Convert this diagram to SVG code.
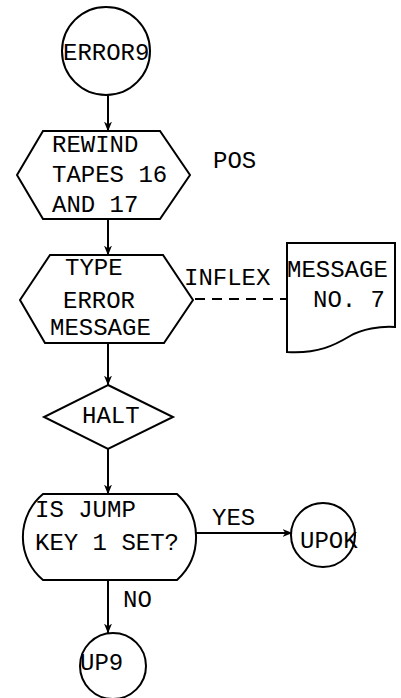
<svg xmlns="http://www.w3.org/2000/svg" width="401" height="698" viewBox="0 0 401 698">
  <style>
    .shape { fill: #fff; stroke: #000; stroke-width: 2; }
    .wire { fill: none; stroke: #000; stroke-width: 2; }
    .dash { fill: none; stroke: #000; stroke-width: 2; stroke-dasharray: 10 7; }
    text { font-family: "Liberation Mono", "Courier New", monospace; font-size: 24px; fill: #000; }
  </style>
  <defs>
    <marker id="arrow" viewBox="0 0 10 8" refX="9.5" refY="4" markerWidth="10" markerHeight="8" markerUnits="userSpaceOnUse" orient="auto">
      <path d="M0,0 L10,4 L0,8 L3,4 Z" fill="#000"/>
    </marker>
  </defs>

  <!-- connectors -->
  <g id="connectors">
    <line class="wire" x1="108" y1="95" x2="108" y2="131" marker-end="url(#arrow)"/>
    <line class="wire" x1="108" y1="219" x2="108" y2="255" marker-end="url(#arrow)"/>
    <line class="wire" x1="108" y1="343" x2="108" y2="385" marker-end="url(#arrow)"/>
    <line class="wire" x1="108" y1="449" x2="108" y2="494" marker-end="url(#arrow)"/>
    <line class="wire" x1="196" y1="533" x2="292" y2="533" marker-end="url(#arrow)"/>
    <line class="wire" x1="108" y1="580" x2="108" y2="633" marker-end="url(#arrow)"/>
    <line class="dash" x1="195" y1="299" x2="287" y2="299"/>
    <text x="213" y="168">POS</text>
    <text x="184" y="285">INFLEX</text>
    <text x="212" y="525">YES</text>
    <text x="123" y="607">NO</text>
  </g>

  <!-- entry connector -->
  <g id="error9">
    <circle class="shape" cx="106" cy="51" r="44"/>
    <text x="63" y="60">ERROR9</text>
  </g>

  <!-- preparation: rewind tapes -->
  <g id="rewind">
    <path class="shape" d="M43,131 H160 L190,175 L160,219 H43 L17,175 Z"/>
    <text x="52" y="152">REWIND</text>
    <text x="52" y="182">TAPES 16</text>
    <text x="52" y="212">AND 17</text>
  </g>

  <!-- preparation: type error message -->
  <g id="type-error">
    <path class="shape" d="M50,255 H163 L193,300 L164,343 H45 L20,300 Z"/>
    <text x="65" y="275">TYPE</text>
    <text x="63" y="308">ERROR</text>
    <text x="50" y="335">MESSAGE</text>
  </g>

  <!-- document: message no. 7 -->
  <g id="message-doc">
    <path class="shape" d="M287,243 H395 V327 C380,326 362,329 350,336 C335,345 318,354 287,352 Z"/>
    <text x="287" y="277">MESSAGE</text>
    <text x="313" y="307">NO. 7</text>
  </g>

  <!-- halt -->
  <g id="halt">
    <path class="shape" d="M108,385 L173,417 L108,449 L44,417 Z"/>
    <text x="82" y="423">HALT</text>
  </g>

  <!-- decision: jump key -->
  <g id="jump-key">
    <path class="shape" d="M43,494 H177 A58,58 0 0 1 177,580 H43 A56,56 0 0 1 43,494 Z"/>
    <text x="35" y="517">IS JUMP</text>
    <text x="35" y="550">KEY 1 SET?</text>
  </g>

  <!-- exit connectors -->
  <g id="upok">
    <circle class="shape" cx="323" cy="535" r="32"/>
    <text x="300" y="548">UPOK</text>
  </g>
  <g id="up9">
    <circle class="shape" cx="113" cy="666" r="33"/>
    <text x="80" y="670">UP9</text>
  </g>
</svg>
